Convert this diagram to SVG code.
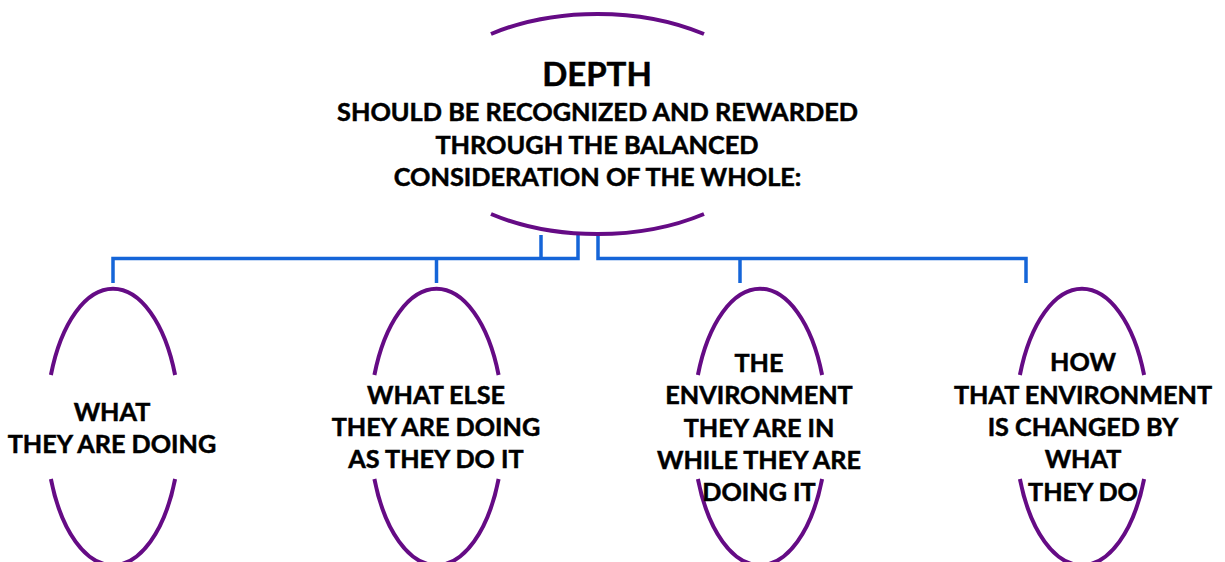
<svg xmlns="http://www.w3.org/2000/svg" width="1225" height="562" viewBox="0 0 1225 562">
  <style>
    .arc { fill: none; stroke: #650b85; stroke-width: 4; stroke-linecap: butt; }
    .wire { fill: none; stroke: #1565d8; stroke-width: 3.5; stroke-linejoin: miter; stroke-linecap: butt; }
    text { font-family: Lato, "Liberation Sans", sans-serif; font-weight: 700; fill: #000; stroke: #000; stroke-width: 0.5; text-anchor: middle; }
    .title { font-size: 33px; }
    .sub { font-size: 25.3px; }
    .label { font-size: 25.2px; }
  </style>
  <rect width="1225" height="562" fill="#fff"/>

  <!-- tree connectors -->
  <g id="connectors">
    <path class="wire" d="M113,283 V258.5 H578 V235"/>
    <path class="wire" d="M436.5,283 V258.5"/>
    <path class="wire" d="M541,258.5 V235"/>
    <path class="wire" d="M598,235 V258.5 H1026 V283"/>
    <path class="wire" d="M740,258.5 V283"/>
  </g>

  <!-- root: depth -->
  <g id="node-depth">
    <path class="arc" d="M491,34 A185,110 0 0 1 704,34"/>
    <path class="arc" d="M491,214 A185,110 0 0 0 704,214"/>
    <text class="title" x="597" y="86">DEPTH</text>
    <text class="sub" x="597.5" y="121">SHOULD BE RECOGNIZED AND REWARDED</text>
    <text class="sub" x="597" y="153.5">THROUGH THE BALANCED</text>
    <text class="sub" x="597.5" y="186">CONSIDERATION OF THE WHOLE:</text>
  </g>

  <g id="node-doing">
    <path class="arc" d="M50.9,375 A67,138 0 0 1 175.1,375"/>
    <path class="arc" d="M50.9,479 A67,138 0 0 0 175.1,479"/>
    <text class="label" x="112" y="420.5">WHAT</text>
    <text class="label" x="112" y="452.7">THEY ARE DOING</text>
  </g>

  <g id="node-else">
    <path class="arc" d="M374.4,375 A67,138 0 0 1 498.6,375"/>
    <path class="arc" d="M374.4,479 A67,138 0 0 0 498.6,479"/>
    <text class="label" x="436" y="404">WHAT ELSE</text>
    <text class="label" x="436" y="436">THEY ARE DOING</text>
    <text class="label" x="436" y="468">AS THEY DO IT</text>
  </g>

  <g id="node-environment">
    <path class="arc" d="M697.9,375 A67,138 0 0 1 822.1,375"/>
    <path class="arc" d="M697.9,479 A67,138 0 0 0 822.1,479"/>
    <text class="label" x="759" y="371.7">THE</text>
    <text class="label" x="759" y="404">ENVIRONMENT</text>
    <text class="label" x="759" y="436.5">THEY ARE IN</text>
    <text class="label" x="759" y="468.5">WHILE THEY ARE</text>
    <text class="label" x="759" y="500.8">DOING IT</text>
  </g>

  <g id="node-change">
    <path class="arc" d="M1019.9,375 A67,138 0 0 1 1144.1,375"/>
    <path class="arc" d="M1019.9,479 A67,138 0 0 0 1144.1,479"/>
    <text class="label" x="1083" y="371">HOW</text>
    <text class="label" x="1083" y="404">THAT ENVIRONMENT</text>
    <text class="label" x="1083" y="436">IS CHANGED BY</text>
    <text class="label" x="1083" y="468">WHAT</text>
    <text class="label" x="1083" y="501">THEY DO</text>
  </g>
</svg>
